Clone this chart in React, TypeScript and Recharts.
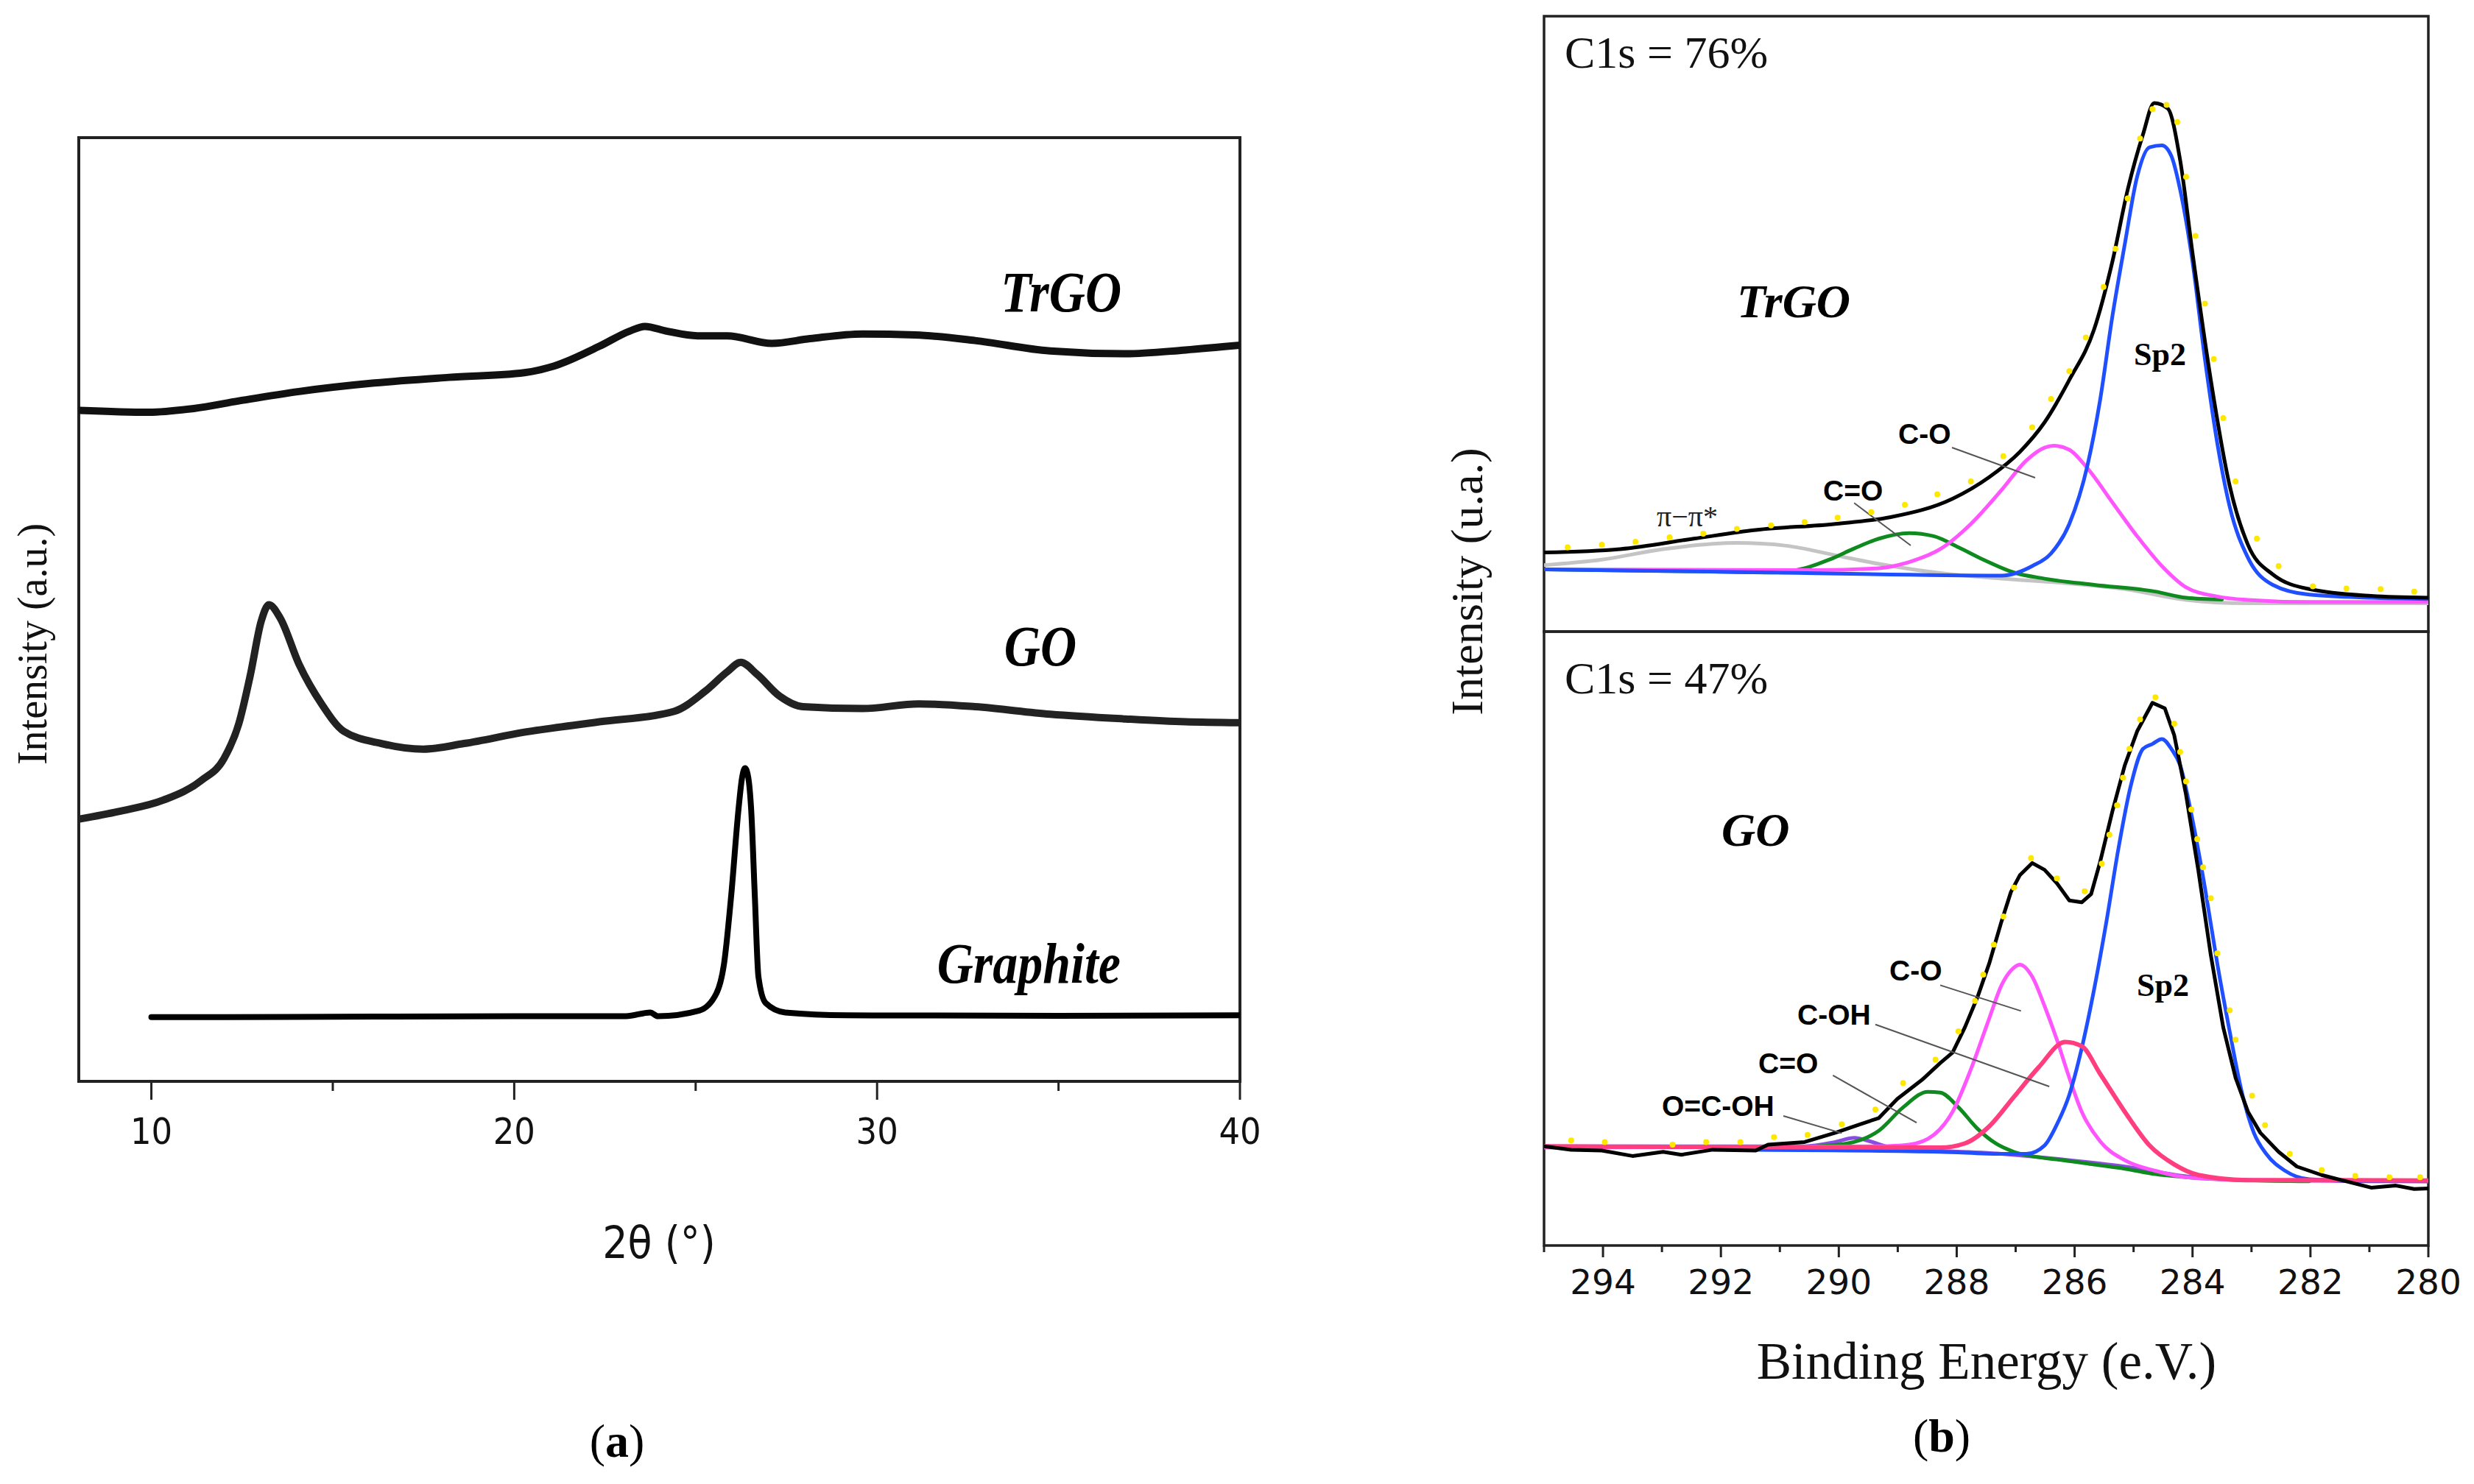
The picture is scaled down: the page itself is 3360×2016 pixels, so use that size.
import React from 'react';
import { ComposedChart, Line, XAxis, YAxis, ReferenceArea, ReferenceLine } from 'recharts';

type P = [number, number];
const toXY = (a: P[]) => a.map(([x, y]) => ({ x, y }));

// ---------- (a) XRD ----------
const xrdTicks = [10, 15, 20, 25, 30, 35, 40];
const xrdTrGO: P[] = [[8.02,71.1],[9.93,70.9],[11.17,71.3],[12.41,72.1],[14.07,73.1],[16.14,74.0],[18.2,74.6],[20.28,75.1],[21.1,75.8],[22.35,77.9],[23.18,79.5],[23.6,80.0],[24.2,79.5],[25.05,79.0],[25.87,79.0],[27.1,78.2],[28.15,78.7],[29.6,79.2],[31.05,79.1],[32.7,78.5],[34.77,77.4],[36.85,77.1],[38.5,77.5],[40,78.0]];
const xrdGO: P[] = [[8.02,27.8],[9.1,28.6],[10.33,29.8],[11.38,31.9],[12.0,34.2],[12.41,37.9],[12.73,43.1],[13.03,48.8],[13.24,50.5],[13.55,49.1],[14.07,44.2],[14.69,40.0],[15.3,37.1],[16.34,35.8],[17.49,35.2],[18.62,35.8],[20.28,37.0],[22.35,38.1],[24.4,39.2],[25.25,41.3],[25.87,43.4],[26.24,44.4],[26.7,43.1],[27.32,40.8],[27.95,39.7],[29.6,39.5],[31.15,40.0],[32.7,39.7],[34.77,38.9],[36.85,38.4],[38.5,38.1],[40,38.0]];
const xrdGraphite: P[] = [[10.0,6.8],[12,6.8],[15,6.85],[20,6.9],[23.08,6.9],[23.75,7.3],[23.96,6.9],[25.1,7.5],[25.57,9.3],[25.78,12.4],[25.98,19.7],[26.18,28.8],[26.28,32.2],[26.36,33.2],[26.45,32.2],[26.53,28.8],[26.63,19.7],[26.73,11.1],[26.93,8.3],[27.47,7.3],[29.16,7.0],[35,6.95],[40,7.0]];

// ---------- (b) XPS ----------
const xpsTicks = [295, 294, 293, 292, 291, 290, 289, 288, 287, 286, 285, 284, 283, 282, 281, 280];

// TrGO (top)
const trgoTotal: P[] = [[295.0,12.85],[293.71,13.4],[292.46,15.1],[291.41,16.5],[290.06,17.5],[289.12,18.6],[288.07,21.6],[287.45,25.1],[286.93,29.2],[286.51,34.0],[286.09,40.9],[285.67,49.1],[285.36,60.1],[285.1,71.8],[284.84,80.8],[284.65,85.9],[284.42,85.0],[284.21,76.6],[284.0,61.5],[283.69,40.9],[283.37,23.7],[283.06,14.1],[282.64,9.3],[282.02,6.9],[280.97,5.8],[280,5.5]];
const trgoSp2: P[] = [[295,10.1],[291.1,9.6],[287.24,9.1],[286.72,10.65],[286.4,12.7],[286.09,17.5],[285.78,27.1],[285.57,37.5],[285.36,51.2],[285.15,62.9],[284.94,73.9],[284.73,78.7],[284.52,79.0],[284.36,77.3],[284.21,71.8],[284.0,60.1],[283.79,44.3],[283.58,30.6],[283.37,20.3],[283.06,12.0],[282.64,7.6],[282.02,6.0],[280.97,5.5],[280,5.3]];
const trgoCO: P[] = [[295,10.1],[290.37,10.0],[289.32,10.3],[288.81,11.3],[288.28,13.4],[287.76,17.5],[287.24,23.0],[286.82,27.8],[286.51,29.9],[286.35,30.2],[286.09,29.55],[285.78,26.5],[285.36,21.0],[284.94,15.5],[284.52,10.65],[284.11,7.2],[283.58,5.7],[283.06,5.15],[282.02,4.8],[280,4.8]];
const trgoCdO: P[] = [[295,10.1],[292.46,9.8],[291.1,9.6],[290.58,10.3],[290.16,11.7],[289.74,13.5],[289.32,15.1],[288.81,16.0],[288.39,15.5],[287.97,13.7],[287.55,11.7],[287.03,9.6],[286.51,8.6],[285.67,7.6],[284.63,6.5],[284.11,5.5],[283.5,5.2]];
const trgoPi: P[] = [[295,10.8],[294.02,11.7],[292.98,13.4],[291.73,14.4],[290.89,13.95],[290.06,12.4],[289.32,11.0],[288.28,9.5],[287.24,8.6],[286.19,7.9],[285.15,6.9],[284.11,5.15],[283.06,4.6],[280,4.6]];
const trgoRaw: P[] = [[294.6,13.7],[294.02,14.1],[293.45,14.6],[292.87,15.3],[292.3,15.9],[291.73,16.7],[291.15,17.25],[290.58,17.8],[290.02,18.5],[289.45,19.4],[288.88,20.6],[288.33,22.3],[287.76,24.4],[287.21,28.5],[286.72,33.2],[286.4,37.8],[286.09,42.3],[285.81,47.8],[285.51,56.0],[285.31,62.2],[285.1,70.4],[284.89,80.1],[284.68,84.9],[284.44,85.6],[284.26,82.8],[284.11,73.9],[283.95,64.3],[283.79,53.3],[283.64,44.3],[283.48,34.7],[283.27,24.4],[282.91,15.1],[282.54,10.65],[281.96,7.35],[281.39,7.0],[280.81,6.9],[280.24,6.5]];

// GO (bottom)
const goTotal: P[] = [[295.0,16.16],[294.54,15.6],[294.02,15.47],[293.5,14.58],[292.98,15.26],[292.67,14.78],[292.14,15.6],[291.41,15.47],[291.2,16.43],[290.58,16.85],[290.06,18.36],[289.64,19.74],[289.32,20.77],[289.01,23.86],[288.59,26.97],[288.28,29.72],[288.07,31.44],[287.86,35.57],[287.65,40.4],[287.45,45.9],[287.24,52.8],[287.08,57.6],[286.93,60.3],[286.72,62.3],[286.51,61.2],[286.3,59.0],[286.09,56.2],[285.88,55.9],[285.72,57.25],[285.57,62.4],[285.36,70.7],[285.15,78.2],[284.94,83.75],[284.68,88.4],[284.47,87.5],[284.31,83.1],[284.11,73.4],[283.9,61.0],[283.69,47.3],[283.48,35.57],[283.27,27.31],[283.06,21.8],[282.85,18.36],[282.54,15.26],[282.23,12.86],[281.81,11.48],[281.39,10.45],[280.97,9.42],[280.55,9.76],[280.24,9.21],[280.0,9.28]];
const goSp2: P[] = [[291.41,15.6],[288.28,15.26],[287.24,14.92],[286.82,14.92],[286.51,16.3],[286.3,19.74],[286.09,24.56],[285.88,32.12],[285.67,41.7],[285.46,52.8],[285.26,64.5],[285.05,74.8],[284.84,80.9],[284.68,81.7],[284.52,82.5],[284.36,80.9],[284.21,78.2],[284.0,69.3],[283.79,58.3],[283.58,45.9],[283.37,34.88],[283.17,25.24],[282.96,18.36],[282.75,14.92],[282.43,12.17],[282.02,10.79],[280.97,10.45],[280,10.45]];
const goCO: P[] = [[295,15.95],[289.32,16.16],[288.81,16.43],[288.39,18.02],[288.07,21.8],[287.76,28.7],[287.45,36.95],[287.24,42.4],[287.08,44.8],[286.93,45.75],[286.72,43.8],[286.51,39.0],[286.3,33.5],[286.09,27.31],[285.88,21.8],[285.57,16.99],[285.15,13.89],[284.63,12.17],[284.11,11.13],[283.06,10.65],[280,10.45]];
const goCOH: P[] = [[295,16.16],[288.28,15.95],[287.86,16.64],[287.45,19.4],[287.03,24.2],[286.61,29.03],[286.16,33.16],[285.88,32.47],[285.57,28.0],[285.15,21.8],[284.73,16.3],[284.31,13.2],[283.9,11.48],[283.06,10.65],[282.02,10.65],[280,10.58]];
const goCdO: P[] = [[290.37,16.16],[289.85,16.64],[289.32,18.71],[288.91,22.5],[288.49,25.04],[288.28,24.9],[287.97,22.5],[287.65,19.05],[287.34,16.64],[287.03,15.26],[286.61,14.37],[286.19,13.89],[285.67,13.2],[285.15,12.51],[284.63,11.62],[284.11,11.13],[283.06,10.65],[282.02,10.45]];
const goOCOH: P[] = [[295,16.16],[290.58,16.16],[290.06,16.85],[289.74,17.53],[289.43,16.85],[289.12,15.95],[287.24,14.92],[286.19,14.0],[285.15,12.86],[284.11,11.27],[283.06,10.65],[280,10.45]];
const goRaw: P[] = [[294.54,17.12],[293.97,16.85],[292.82,16.43],[292.25,16.85],[291.67,16.85],[291.1,17.67],[290.53,18.02],[289.95,19.74],[289.38,22.15],[288.91,26.48],[288.36,30.27],[287.97,34.88],[287.69,39.83],[287.55,44.13],[287.37,49.0],[287.21,53.6],[287.03,58.3],[286.74,63.1],[286.3,59.8],[285.83,57.7],[285.54,62.2],[285.41,66.9],[285.28,71.7],[285.18,76.2],[285.07,80.9],[284.89,85.7],[284.63,89.3],[284.31,85.0],[284.21,80.4],[284.11,75.6],[284.02,71.0],[283.92,66.2],[283.82,61.6],[283.69,56.55],[283.58,47.6],[283.37,38.3],[283.27,33.5],[282.99,24.4],[282.77,19.6],[282.35,14.92],[281.81,12.3],[281.24,11.34],[280.66,11.13],[280.14,11.13]];

// leader lines [x1,y1,x2,y2]
const topLeaders: [number, number, number, number][] = [[288.08,29.9,286.67,25.0],[289.74,20.9,288.78,14.0]];
const bottomLeaders: [number, number, number, number][] = [[288.28,42.4,286.91,38.2],[289.38,36.0,286.43,25.9],[290.1,27.7,288.68,20.0],[290.94,21.1,289.95,18.3]];

const SERIF = "'Liberation Serif', 'Times New Roman', serif";
const SANS = "'Liberation Sans', Arial, sans-serif";
const TICKF = "'DejaVu Sans', Verdana, sans-serif";
const FRAME = '#222';

const LeftTick = (props: any) => {
  const { x, y, payload } = props;
  const v = payload.value;
  const major = v % 10 === 0;
  return (
    <g>
      <line x1={x} y1={y} x2={x} y2={y + (major ? 25 : 13)} stroke={FRAME} strokeWidth={3} />
      {major && (
        <text x={x} y={y + 85} textAnchor="middle" fontFamily={TICKF} fontSize={50} fill="#111" style={{ fontStretch: 'condensed' }}>
          {v}
        </text>
      )}
    </g>
  );
};

const RightTick = (props: any) => {
  const { x, y, payload } = props;
  const v = payload.value;
  const major = v % 2 === 0;
  return (
    <g>
      <line x1={x} y1={y} x2={x} y2={y + (major ? 16 : 9)} stroke={FRAME} strokeWidth={3} />
      {major && (
        <text x={x} y={y + 66} textAnchor="middle" fontFamily={TICKF} fontSize={47} fill="#111">
          {v}
        </text>
      )}
    </g>
  );
};

const line = (key: string, data: P[], color: string, w: number, type: any = 'monotone') => (
  <Line
    key={key}
    data={toXY(data)}
    dataKey="y"
    type={type}
    stroke={color}
    strokeWidth={w}
    dot={false}
    activeDot={false}
    isAnimationActive={false}
    strokeLinejoin="round"
    strokeLinecap="round"
  />
);

const dots = (key: string, data: P[]) => (
  <Line
    key={key}
    data={toXY(data)}
    dataKey="y"
    stroke="none"
    strokeWidth={0}
    dot={{ r: 4, fill: '#FFE800', stroke: 'none' }}
    activeDot={false}
    isAnimationActive={false}
  />
);

const leaders = (arr: [number, number, number, number][]) =>
  arr.map((s, i) => (
    <ReferenceLine
      key={'ld' + i}
      segment={[{ x: s[0], y: s[1] }, { x: s[2], y: s[3] }]}
      stroke="#555"
      strokeWidth={2}
      ifOverflow="visible"
    />
  ));

const XrdLabel = ({ x, y, children }: { x: number; y: number; children: React.ReactNode }) => (
  <text
    transform={`translate(${x},${y}) scale(1,1.15)`}
    x={0}
    y={0}
    textAnchor="end"
    fontFamily={SERIF}
    fontSize={68}
    fontWeight="bold"
    fontStyle="italic"
    fill="#000"
  >
    {children}
  </text>
);

export default function App() {
  return (
    <div style={{ position: 'absolute', left: 0, top: 0, width: 3360, height: 2016, background: '#fff', overflow: 'hidden' }}>
      {/* (a) XRD */}
      <div style={{ position: 'absolute', left: 0, top: 0 }}>
        <ComposedChart width={1760} height={1700} margin={{ top: 187, right: 76, bottom: 131, left: 107 }}>
          <XAxis
            dataKey="x"
            type="number"
            domain={[8, 40]}
            allowDataOverflow
            ticks={xrdTicks}
            interval={0}
            tick={<LeftTick />}
            tickLine={false}
            axisLine={false}
            tickSize={0}
            tickMargin={0}
            height={100}
          />
          <YAxis type="number" domain={[0, 100]} hide />
          {line('trgo', xrdTrGO, '#111', 10)}
          {line('go', xrdGO, '#222', 10)}
          {line('gr', xrdGraphite, '#000', 8)}
          <ReferenceArea x1={8} x2={40} y1={0} y2={100} fill="none" stroke={FRAME} strokeWidth={4} ifOverflow="visible" />
        </ComposedChart>
      </div>

      {/* (b) XPS top: TrGO */}
      <div style={{ position: 'absolute', left: 2000, top: 0 }}>
        <ComposedChart width={1350} height={880} margin={{ top: 22, right: 52, bottom: 22, left: 97 }}>
          <XAxis dataKey="x" type="number" domain={[280, 295]} reversed allowDataOverflow hide />
          <YAxis type="number" domain={[0, 100]} hide />
          {line('pi', trgoPi, '#C4C4C4', 5)}
          {line('cdo', trgoCdO, '#0E8A1E', 5)}
          {line('co', trgoCO, '#FF55FF', 5)}
          {line('sp2', trgoSp2, '#1F4FFF', 5)}
          {line('tot', trgoTotal, '#000', 5)}
          {dots('raw', trgoRaw)}
          {leaders(topLeaders)}
          <ReferenceArea x1={280} x2={295} y1={0} y2={100} fill="none" stroke={FRAME} strokeWidth={3.5} ifOverflow="visible" />
        </ComposedChart>
      </div>

      {/* (b) XPS bottom: GO */}
      <div style={{ position: 'absolute', left: 2000, top: 840 }}>
        <ComposedChart width={1350} height={1176} margin={{ top: 18, right: 52, bottom: 224, left: 97 }}>
          <XAxis
            dataKey="x"
            type="number"
            domain={[280, 295]}
            reversed
            allowDataOverflow
            ticks={xpsTicks}
            interval={0}
            tick={<RightTick />}
            tickLine={false}
            axisLine={false}
            tickSize={0}
            tickMargin={0}
            height={100}
          />
          <YAxis type="number" domain={[0, 100]} hide />
          {line('ocoh', goOCOH, '#8A4DE0', 5)}
          {line('cdo', goCdO, '#0E8A1E', 5)}
          {line('co', goCO, '#FF55FF', 5)}
          {line('sp2', goSp2, '#1F4FFF', 5)}
          {line('coh', goCOH, '#FF3D7F', 6)}
          {line('tot', goTotal, '#000', 5, 'linear')}
          {dots('raw', goRaw)}
          {leaders(bottomLeaders)}
          <ReferenceArea x1={280} x2={295} y1={0} y2={100} fill="none" stroke={FRAME} strokeWidth={3.5} ifOverflow="visible" />
        </ComposedChart>
      </div>

      {/* text overlay */}
      <svg width={3360} height={2016} style={{ position: 'absolute', left: 0, top: 0, pointerEvents: 'none' }}>
        {/* (a) */}
        <text transform="translate(44,875) rotate(-90)" textAnchor="middle" dominantBaseline="central" fontFamily={SERIF} fontSize={56} fill="#111">
          Intensity (a.u.)
        </text>
        <text x={895} y={1688} textAnchor="middle" dominantBaseline="central" fontFamily={TICKF} fontSize={60} fill="#111" style={{ fontStretch: 'condensed' }}>
          2θ (°)
        </text>
        <text x={838} y={1957} textAnchor="middle" dominantBaseline="central" fontFamily={SERIF} fontSize={64} fill="#000">
          (<tspan fontWeight="bold">a</tspan>)
        </text>
        <XrdLabel x={1523} y={423}>TrGO</XrdLabel>
        <XrdLabel x={1462} y={904}>GO</XrdLabel>
        <XrdLabel x={1522} y={1335}>Graphite</XrdLabel>

        {/* (b) */}
        <text transform="translate(1992,790) rotate(-90)" textAnchor="middle" dominantBaseline="central" fontFamily={SERIF} fontSize={62} fill="#111">
          Intensity (u.a.)
        </text>
        <text x={2698} y={1849} textAnchor="middle" dominantBaseline="central" fontFamily={SERIF} fontSize={71} fill="#111">
          Binding Energy (e.V.)
        </text>
        <text x={2637} y={1950} textAnchor="middle" dominantBaseline="central" fontFamily={SERIF} fontSize={64} fill="#000">
          (<tspan fontWeight="bold">b</tspan>)
        </text>
        <text x={2125} y={92} fontFamily={SERIF} fontSize={62} fill="#111">C1s = 76%</text>
        <text x={2125} y={942} fontFamily={SERIF} fontSize={62} fill="#111">C1s = 47%</text>
        <text x={2359} y={431} fontFamily={SERIF} fontSize={64} fontWeight="bold" fontStyle="italic" fill="#000">TrGO</text>
        <text x={2338} y={1149} fontFamily={SERIF} fontSize={64} fontWeight="bold" fontStyle="italic" fill="#000">GO</text>
        <text x={2898} y={496} fontFamily={SERIF} fontSize={44} fontWeight="bold" fill="#000">Sp2</text>
        <text x={2902} y={1353} fontFamily={SERIF} fontSize={44} fontWeight="bold" fill="#000">Sp2</text>
        <text x={2578} y={603} fontFamily={SANS} fontSize={39} fontWeight="bold" fill="#000">C-O</text>
        <text x={2476} y={680} fontFamily={SANS} fontSize={39} fontWeight="bold" fill="#000">C=O</text>
        <text x={2250} y={715} fontFamily={SERIF} fontSize={40} fill="#222">π−π*</text>
        <text x={2566} y={1332} fontFamily={SANS} fontSize={39} fontWeight="bold" fill="#000">C-O</text>
        <text x={2441} y={1392} fontFamily={SANS} fontSize={39} fontWeight="bold" fill="#000">C-OH</text>
        <text x={2388} y={1458} fontFamily={SANS} fontSize={39} fontWeight="bold" fill="#000">C=O</text>
        <text x={2257} y={1516} fontFamily={SANS} fontSize={39} fontWeight="bold" fill="#000">O=C-OH</text>
      </svg>
    </div>
  );
}
